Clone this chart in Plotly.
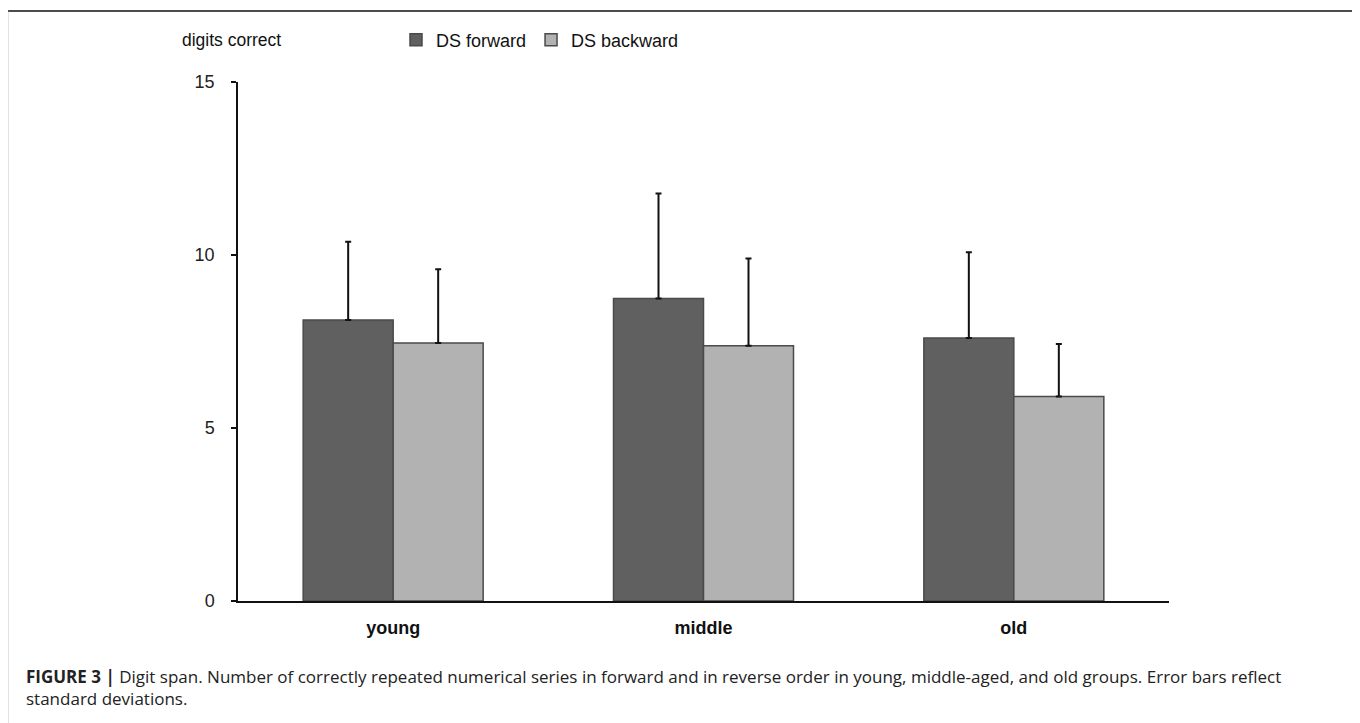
import plotly.graph_objects as go

groups = ["young", "middle", "old"]
ds_forward = [8.12, 8.74, 7.60]
ds_forward_sd = [2.26, 3.04, 2.48]
ds_backward = [7.46, 7.38, 5.91]
ds_backward_sd = [2.13, 2.52, 1.52]
y_ticks = [0, 5, 10, 15]

OFF = 8  # default page body margin
W, H = 1360, 723
L, R, T, B = 238, 1169, 82, 601  # plot area in page pixels


def px(x):
    return (x - L) / (R - L)


def py(y):
    return (B - y) / (B - T)


fig = go.Figure()
fig.add_trace(go.Bar(
    name="DS forward", x=groups, y=ds_forward,
    marker=dict(color="#606060", line=dict(color="#4a4a4a", width=1.5)),
    error_y=dict(type="data", array=ds_forward_sd, arrayminus=[0] * 3,
                 symmetric=False, color="#111111", thickness=2, width=3),
))
fig.add_trace(go.Bar(
    name="DS backward", x=groups, y=ds_backward,
    marker=dict(color="#b2b2b2", line=dict(color="#4a4a4a", width=1.5)),
    error_y=dict(type="data", array=ds_backward_sd, arrayminus=[0] * 3,
                 symmetric=False, color="#111111", thickness=2, width=3),
))

fig.update_layout(
    width=W - OFF, height=H - OFF,
    margin=dict(l=L - OFF, r=W - R, t=T - OFF, b=H - B, pad=0),
    paper_bgcolor="white", plot_bgcolor="white",
    barmode="group", bargap=0.42, bargroupgap=0,
    font=dict(family="Liberation Sans, Arial", size=16, color="#111111"),
    showlegend=True,
    legend=dict(orientation="h", x=px(396), y=py(40), xanchor="left", yanchor="middle",
                font=dict(size=18, color="#111111"), itemwidth=30, tracegroupgap=0,
                bgcolor="rgba(0,0,0,0)"),
    xaxis=dict(showline=True, linecolor="#111111", linewidth=2, ticks="",
               showgrid=False, zeroline=False,
               tickfont=dict(size=18, color="#111111", weight="bold"),
               ticklabelstandoff=9),
    yaxis=dict(range=[0, 15], tickvals=y_ticks, showline=True, linecolor="#111111",
               linewidth=1.5, ticks="outside", ticklen=5, tickwidth=1.5,
               tickcolor="#111111", showgrid=False, zeroline=False,
               tickfont=dict(size=18, color="#222222"), ticklabelstandoff=13),
)

fig.add_annotation(text="digits correct", xref="paper", yref="paper",
                   x=px(180), y=py(40), xanchor="left", yanchor="middle",
                   showarrow=False, font=dict(size=17.5, color="#111111"))

fig.add_annotation(
    text="<b>FIGURE 3 |</b> Digit span. Number of correctly repeated numerical series in forward and in reverse order in young, middle-aged, and old groups. Error bars reflect<br>standard deviations.",
    xref="paper", yref="paper", x=px(24), y=py(687), xanchor="left", yanchor="middle",
    align="left", showarrow=False,
    font=dict(family="Open Sans, Liberation Sans", size=17, color="#222222"))

# frame
fig.add_shape(type="line", xref="paper", yref="paper", x0=px(7), x1=px(1357), y0=py(11), y1=py(11),
              line=dict(color="#111111", width=1.5))
fig.add_shape(type="line", xref="paper", yref="paper", x0=px(7.5), x1=px(7.5), y0=py(11), y1=py(740),
              line=dict(color="#8a8a8a", width=1.5))
fig.add_shape(type="line", xref="paper", yref="paper", x0=px(1355.5), x1=px(1355.5), y0=py(11), y1=py(740),
              line=dict(color="#8a8a8a", width=1.5))

fig.write_html("out.html")
